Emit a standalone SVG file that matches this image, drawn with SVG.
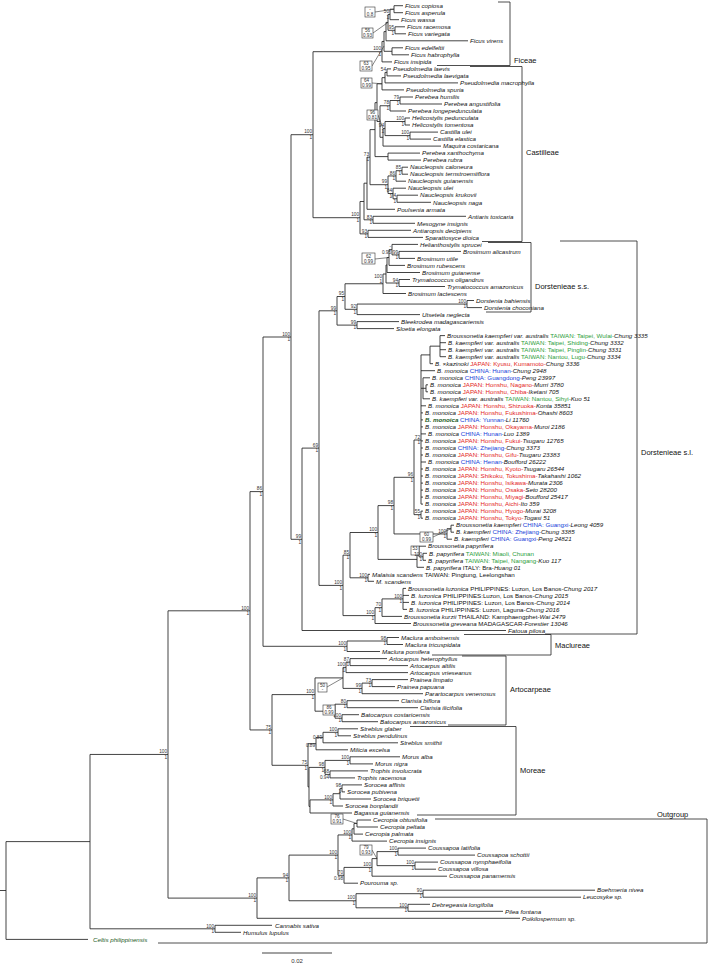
<svg xmlns="http://www.w3.org/2000/svg" width="710" height="964" viewBox="0 0 710 964">
<style>
.br{fill:none;stroke:#222;stroke-width:0.85}
.bx{fill:#fff;stroke:#333;stroke-width:0.6}
.ld{fill:none;stroke:#333;stroke-width:0.6}
.cb{fill:none;stroke:#222;stroke-width:0.8}
.t{font-family:"Liberation Sans",Arial,sans-serif;font-style:italic;font-size:6.2px;fill:#111}
.n{font-style:normal}
.jp{font-style:normal;fill:#e3261d}
.cn{font-style:normal;fill:#2040d8}
.tw{font-style:normal;fill:#2e9e3a}
.gb{font-weight:bold;fill:#1d5a1d}
.s{font-family:"Liberation Sans",Arial,sans-serif;font-size:4.7px;fill:#333;text-anchor:end}
.sb{font-family:"Liberation Sans",Arial,sans-serif;font-size:4.6px;fill:#333;text-anchor:middle}
.cl{font-family:"Liberation Sans",Arial,sans-serif;font-size:7.5px;fill:#111}
</style>
<g id="connectors">
<path class="br" d="M0 890.5H6M6 841.6V939.4M6 841.6H90M6 939.4H88
M90 754.45V928.8M90 754.45H168M90 928.8H215
M215 925.3V932.3M215 925.3H272M215 932.3H241
M168 610.8V898.1M168 610.8H250M168 898.1H257
M257 877.9V918.3M257 877.9H289M257 918.3H520
M289 855.1V900.75M289 855.1H338M289 900.75H356
M356 893.7V907.8M356 893.7H423M356 907.8H408
M423 890.2V897.2M423 890.2H595M423 897.2H581
M408 904.3V911.3M408 904.3H430M408 911.3H503
M338 834.95V875.3M338 834.95H352M338 875.3H344
M352 828.8V841.1M352 828.8H354M352 841.1H387
M354 823.5V834.1M354 823.5H357M354 834.1H363
M357 820V827M357 820H371M357 827H378
M344 867.4V883.2M344 867.4H372M344 883.2H358
M372 858.6V876.2M372 858.6H377M372 876.2H447
M377 851.6V865.65M377 851.6H398M377 865.65H415
M398 848.1V855.1M398 848.1H426M398 855.1H475
M415 862.1V869.2M415 862.1H438M415 869.2H436"/>
<path class="br" d="M250 491.6V729.95M250 491.6H263M250 729.95H272
M272 694.6V765.3M272 694.6H315M272 765.3H308
M315 677.9V711.2M315 677.9H343M315 711.2H335
M343 667.4V688.4M343 667.4H346M343 688.4H362
M346 662.1V672.6M346 662.1H350M346 672.6H408
M350 658.6V665.6M350 658.6H387M350 665.6H408
M362 683.1V693.7M362 683.1H372M362 693.7H423
M372 679.6V686.6M372 679.6H408M372 686.6H395
M335 704.2V718.2M335 704.2H347M335 718.2H342
M347 700.7V707.7M347 700.7H399M347 707.7H418
M342 714.7V721.7M342 714.7H359M342 721.7H378
M308 743.7V786.9M308 743.7H316M308 786.9H309
M316 737.55V749.8M316 737.55H323M316 749.8H348
M323 732.3V742.8M323 732.3H338M323 742.8H398
M338 728.8V735.8M338 728.8H358M338 735.8H351
M309 767.4V806.45M309 767.4H325M309 806.45H310
M325 760.4V774.4M325 760.4H350M325 774.4H330
M350 756.8V763.9M350 756.8H400M350 763.9H373
M330 770.9V777.9M330 770.9H368M330 777.9H355
M310 799.9V813M310 799.9H333M310 813H352
M333 793.7V806M333 793.7H340M333 806H343
M340 788.4V799M340 788.4H342M340 799H371
M342 784.9V791.9M342 784.9H362M342 791.9H345
M263 337V646.3M263 337H291M263 646.3H347
M347 641V651.5M347 641H387M347 651.5H380
M387 637.5V644.5M387 637.5H399M387 644.5H403"/>
<path class="br" d="M291 134.7V539.3M291 134.7H313M291 539.3H302
M302 448.1V630.5M302 448.1H319M302 630.5H506
M319 310.8V585.4M319 310.8H337M319 585.4H343
M337 296.5V325.1M337 296.5H345M337 325.1H357
M345 283.75V309.3M345 283.75H383M345 309.3H357
M383 274V293.5M383 274H386M383 293.5H406
M386 265V283M386 265H387M386 283H399
M387 257.5V272.5M387 257.5H389M387 272.5H420
M389 249.65V265.4M389 249.65H392M389 265.4H405
M392 244.4V254.9M392 244.4H418M392 254.9H399
M399 251.4V258.4M399 251.4H461M399 258.4H415
M399 279.5V286.5M399 279.5H410M399 286.5H445
M357 304.05V314.6M357 304.05H467M357 314.6H420
M467 300.5V307.6M467 300.5H474M467 307.6H482
M357 321.6V328.6M357 321.6H399M357 328.6H394"/>
<path class="br" d="M343 555.15V615.6M343 555.15H350M343 615.6H375
M350 532.5V577.8M350 532.5H378M350 577.8H368
M368 574.3V581.3M368 574.3H370M368 581.3H374
M378 505.6V559.4M378 505.6H394M378 559.4H417
M417 551.5V567.3M417 551.5H419M417 567.3H424
M419 546.2V556.8M419 546.2H426M419 556.8H423
M423 553.3V560.3M423 553.3H427M423 560.3H426
M394 477.3V533.95M394 477.3H414M394 533.95H447
M447 528.7V539.2M447 528.7H451M447 539.2H452
M451 525.2V532.2M451 525.2H454M451 532.2H454
M414 440V514.65M414 440H421M414 514.65H421
M421 511.1V518.2M421 511.1H423M421 518.2H423
M421 354.9V504.1M421 354.9H430M421 370.7H435M421 388.3H423M421 405.8H426M421 412.9H423M421 419.9H423M421 426.9H423M421 433.9H426M421 440.9H423M421 448H423M421 455H423M421 462H426M421 469H423M421 476H423M421 483.1H423M421 490.1H423M421 497.1H423M421 504.1H423
M430 346.15V363.7M430 346.15H440M430 363.7H433
M440 335.6V356.7M440 335.6H445M440 342.7H446M440 349.7H446M440 356.7H446
M423 377.8V398.8M423 377.8H430M423 388.3H426M423 398.8H430
M426 384.8V391.8M426 384.8H428M426 391.8H428
M375 607.65V623.5M375 607.65H382M375 623.5H411
M382 598.9V616.4M382 598.9H403M382 616.4H402
M403 588.4V609.4M403 588.4H406M403 595.4H409M403 602.4H409M403 609.4H407"/>
<path class="br" d="M313 51.7V217.7M313 51.7H382M313 217.7H360
M382 41.45V61.9M382 41.45H384M382 61.9H392
M384 31.6V51.3M384 31.6H386M384 51.3H392
M392 47.8V54.8M392 47.8H403M392 54.8H409
M386 22.4V40.8M386 22.4H388M386 40.8H468
M388 14.45V30.3M388 14.45H390M388 30.3H395
M390 9.2V19.7M390 9.2H394M390 19.7H399
M394 5.7V12.7M394 5.7H403M394 12.7H403
M395 26.8V33.8M395 26.8H405M395 33.8H406
M360 201.5V233.85M360 201.5H364M360 233.85H368
M364 183.2V219.8M364 183.2H367M364 219.8H373
M368 230.3V237.4M368 230.3H411M368 237.4H423
M373 216.3V223.3M373 216.3H466M373 223.3H415
M367 157.15V209.3M367 157.15H370M367 209.3H395
M370 129.6V184.7M370 129.6H375M370 184.7H388
M388 175.95V193.5M388 175.95H396M388 193.5H393
M396 170.7V181.2M396 170.7H402M396 181.2H406
M402 167.2V174.2M402 167.2H408M402 174.2H408
M393 188.2V198.75M393 188.2H406M393 198.75H397
M397 195.2V202.3M397 195.2H418M397 202.3H431
M375 102.65V156.6M375 102.65H377M375 156.6H388
M388 153.1V160.1M388 153.1H420M388 160.1H421
M377 83.8V121.5M377 83.8H382M377 121.5H380
M382 77.65V89.9M382 77.65H385M382 89.9H404
M385 72.4V82.9M385 72.4H387M385 82.9H458
M387 68.9V75.9M387 68.9H391M387 75.9H401
M380 105.75V137.3M380 105.75H390M380 137.3H383
M390 100.5V111M390 100.5H400M390 111H406
M400 97V104M400 97H413M400 104H442
M383 128.55V146.1M383 128.55H385M383 146.1H441
M385 121.5V135.6M385 121.5H405M385 135.6H410
M405 118V125M405 118H410M405 125H410
M410 132.1V139.1M410 132.1H438M410 139.1H431"/>
<path class="ld" d="M375 12L394 9.2M373 33L388 22.4M372 66L384 46M372 83L382 83.8M378 115L383 128.5M375 259L389 257.5M433 537L451 528.7M419 551L419 551.5M327 687L343 677.9M335 710L335 711.2M343 819L357 823.5M372 850L377 858.6"/>
<path class="cb" d="M498 2H510V65.5H437M470 66.5H522V241.5H482M488 242.5H531V312H486M560 241H637V634H545M464 634.5H551V655H432M462 656H506V725H448M410 726.5H516V815H417M435 819H707V943H158"/>
<path class="br" d="M262 953H332"/>
</g>
<g id="clades">
<text class="cl" x="514" y="63">Ficeae</text>
<text class="cl" x="526" y="155">Castilleae</text>
<text class="cl" x="535" y="289">Dorstenieae s.s.</text>
<text class="cl" x="641" y="455">Dorstenieae s.l.</text>
<text class="cl" x="555" y="648">Maclureae</text>
<text class="cl" x="510" y="692">Artocarpeae</text>
<text class="cl" x="520" y="773">Moreae</text>
<text class="cl" x="657" y="817">Outgroup</text>
<text class="sb" x="297" y="963" style="font-size:6px">0.02</text>
</g>
<g id="support">
<g transform="translate(390 14.45)"><text class="s" x="-1" y="-1.3">50</text><text class="s" x="-1" y="4.3">1</text></g>
<g transform="translate(395 30.3)"><text class="s" x="-1" y="-1.3">95</text><text class="s" x="-1" y="4.3">1</text></g>
<g transform="translate(382 51.7)"><text class="s" x="-1" y="-1.3">100</text><text class="s" x="-1" y="4.3">1</text></g>
<g transform="translate(365 7)"><rect class="bx" width="10" height="10"/><text class="sb" x="5" y="4.3">-</text><text class="sb" x="5" y="9">0.8</text></g>
<g transform="translate(362 28)"><rect class="bx" width="11" height="10"/><text class="sb" x="5.5" y="4.3">56</text><text class="sb" x="5.5" y="9">0.93</text></g>
<g transform="translate(360 61)"><rect class="bx" width="12" height="10"/><text class="sb" x="6" y="4.3">63</text><text class="sb" x="6" y="9">0.95</text></g>
<g transform="translate(387 72.4)"><text class="s" x="-1" y="-1.3">54</text></g>
<g transform="translate(361 78)"><rect class="bx" width="11" height="10"/><text class="sb" x="5.5" y="4.3">64</text><text class="sb" x="5.5" y="9">0.99</text></g>
<g transform="translate(400 100.5)"><text class="s" x="-1" y="-1.3">79</text><text class="s" x="-1" y="4.3">1</text></g>
<g transform="translate(390 105.75)"><text class="s" x="-1" y="-1.3">78</text><text class="s" x="-1" y="4.3">1</text></g>
<g transform="translate(367 110)"><rect class="bx" width="11" height="10"/><text class="sb" x="5.5" y="4.3">96</text><text class="sb" x="5.5" y="9">0.81</text></g>
<g transform="translate(405 121.5)"><text class="s" x="-1" y="-1.3">100</text><text class="s" x="-1" y="4.3">1</text></g>
<g transform="translate(385 128.55)"><text class="s" x="-1" y="-1.3">94</text><text class="s" x="-1" y="4.3">1</text></g>
<g transform="translate(410 135.6)"><text class="s" x="-1" y="-1.3">100</text><text class="s" x="-1" y="4.3">1</text></g>
<g transform="translate(370 157.15)"><text class="s" x="-1" y="-1.3">73</text><text class="s" x="-1" y="4.3">1</text></g>
<g transform="translate(402 170.7)"><text class="s" x="-1" y="-1.3">85</text><text class="s" x="-1" y="4.3">1</text></g>
<g transform="translate(396 175.95)"><text class="s" x="-1" y="-1.3">86</text><text class="s" x="-1" y="4.3">1</text></g>
<g transform="translate(388 184.7)"><text class="s" x="-1" y="-1.3">99</text><text class="s" x="-1" y="4.3">1</text></g>
<g transform="translate(393 193.5)"><text class="s" x="-1" y="-1.3">84</text><text class="s" x="-1" y="4.3">1</text></g>
<g transform="translate(397 198.75)"><text class="s" x="-1" y="-1.3">74</text><text class="s" x="-1" y="4.3">1</text></g>
<g transform="translate(360 217.7)"><text class="s" x="-1" y="-1.3">100</text><text class="s" x="-1" y="4.3">1</text></g>
<g transform="translate(373 219.8)"><text class="s" x="-1" y="-1.3">83</text><text class="s" x="-1" y="4.3">1</text></g>
<g transform="translate(368 233.85)"><text class="s" x="-1" y="-1.3">93</text><text class="s" x="-1" y="4.3">1</text></g>
<g transform="translate(313 134.7)"><text class="s" x="-1" y="-1.3">100</text><text class="s" x="-1" y="4.3">1</text></g>
<g transform="translate(392 249.65)"><text class="s" x="-1" y="-1.3">-</text><text class="s" x="-1" y="4.3">0.95</text></g>
<g transform="translate(399 254.9)"><text class="s" x="-1" y="-1.3">99</text><text class="s" x="-1" y="4.3">1</text></g>
<g transform="translate(362 253)"><rect class="bx" width="13" height="11"/><text class="sb" x="6.5" y="4.6">62</text><text class="sb" x="6.5" y="9.6">0.99</text></g>
<g transform="translate(399 283)"><text class="s" x="-1" y="-1.3">94</text><text class="s" x="-1" y="4.3">1</text></g>
<g transform="translate(383 279)"><text class="s" x="-1" y="-1.3">100</text><text class="s" x="-1" y="4.3">1</text></g>
<g transform="translate(467 304.05)"><text class="s" x="-1" y="-1.3">100</text><text class="s" x="-1" y="4.3">1</text></g>
<g transform="translate(357 309.3)"><text class="s" x="-1" y="-1.3">92</text><text class="s" x="-1" y="4.3">1</text></g>
<g transform="translate(345 296.5)"><text class="s" x="-1" y="-1.3">95</text><text class="s" x="-1" y="4.3">1</text></g>
<g transform="translate(357 325.1)"><text class="s" x="-1" y="-1.3">99</text><text class="s" x="-1" y="4.3">1</text></g>
<g transform="translate(337 310.8)"><text class="s" x="-1" y="-1.3">99</text><text class="s" x="-1" y="4.3">1</text></g>
<g transform="translate(421 440)"><text class="s" x="-1" y="-1.3">72</text><text class="s" x="-1" y="4.3">1</text></g>
<g transform="translate(414 477.3)"><text class="s" x="-1" y="-1.3">96</text><text class="s" x="-1" y="4.3">1</text></g>
<g transform="translate(421 514.65)"><text class="s" x="-1" y="-1.3">55</text><text class="s" x="-1" y="4.3">1</text></g>
<g transform="translate(394 505.6)"><text class="s" x="-1" y="-1.3">98</text><text class="s" x="-1" y="4.3">1</text></g>
<g transform="translate(420 532)"><rect class="bx" width="13" height="10"/><text class="sb" x="6.5" y="4.3">60</text><text class="sb" x="6.5" y="9">0.99</text></g>
<g transform="translate(447 533.95)"><text class="s" x="-1" y="-1.3">100</text><text class="s" x="-1" y="4.3">1</text></g>
<g transform="translate(411 546)"><rect class="bx" width="8" height="9"/><text class="sb" x="4" y="4">53</text><text class="sb" x="4" y="8.3">-</text></g>
<g transform="translate(423 556.8)"><text class="s" x="-1" y="-1.3">100</text><text class="s" x="-1" y="4.3">1</text></g>
<g transform="translate(378 532.5)"><text class="s" x="-1" y="-1.3">100</text><text class="s" x="-1" y="4.3">1</text></g>
<g transform="translate(350 555.15)"><text class="s" x="-1" y="-1.3">85</text><text class="s" x="-1" y="4.3">1</text></g>
<g transform="translate(368 577.8)"><text class="s" x="-1" y="-1.3">100</text><text class="s" x="-1" y="4.3">1</text></g>
<g transform="translate(403 598.9)"><text class="s" x="-1" y="-1.3">100</text><text class="s" x="-1" y="4.3">1</text></g>
<g transform="translate(382 607.65)"><text class="s" x="-1" y="-1.3">70</text><text class="s" x="-1" y="4.3">1</text></g>
<g transform="translate(375 615.6)"><text class="s" x="-1" y="-1.3">100</text><text class="s" x="-1" y="4.3">1</text></g>
<g transform="translate(343 585.4)"><text class="s" x="-1" y="-1.3">100</text><text class="s" x="-1" y="4.3">1</text></g>
<g transform="translate(319 448.1)"><text class="s" x="-1" y="-1.3">69</text><text class="s" x="-1" y="4.3">1</text></g>
<g transform="translate(302 539.3)"><text class="s" x="-1" y="-1.3">99</text><text class="s" x="-1" y="4.3">1</text></g>
<g transform="translate(291 337)"><text class="s" x="-1" y="-1.3">100</text><text class="s" x="-1" y="4.3">1</text></g>
<g transform="translate(263 491.6)"><text class="s" x="-1" y="-1.3">86</text><text class="s" x="-1" y="4.3">1</text></g>
<g transform="translate(250 610.8)"><text class="s" x="-1" y="-1.3">100</text><text class="s" x="-1" y="4.3">1</text></g>
<g transform="translate(272 729.95)"><text class="s" x="-1" y="-1.3">75</text><text class="s" x="-1" y="4.3">1</text></g>
<g transform="translate(168 754.45)"><text class="s" x="-1" y="-1.3">100</text><text class="s" x="-1" y="4.3">1</text></g>
<g transform="translate(257 898.1)"><text class="s" x="-1" y="-1.3">100</text><text class="s" x="-1" y="4.3">1</text></g>
<g transform="translate(289 877.9)"><text class="s" x="-1" y="-1.3">94</text><text class="s" x="-1" y="4.3">1</text></g>
<g transform="translate(215 928.8)"><text class="s" x="-1" y="-1.3">100</text><text class="s" x="-1" y="4.3">1</text></g>
<g transform="translate(387 641)"><text class="s" x="-1" y="-1.3">98</text><text class="s" x="-1" y="4.3">1</text></g>
<g transform="translate(347 646.3)"><text class="s" x="-1" y="-1.3">100</text><text class="s" x="-1" y="4.3">1</text></g>
<g transform="translate(350 662.1)"><text class="s" x="-1" y="-1.3">87</text><text class="s" x="-1" y="4.3">1</text></g>
<g transform="translate(346 667.4)"><text class="s" x="-1" y="-1.3">100</text><text class="s" x="-1" y="4.3">1</text></g>
<g transform="translate(372 683.1)"><text class="s" x="-1" y="-1.3">73</text><text class="s" x="-1" y="4.3">1</text></g>
<g transform="translate(362 688.4)"><text class="s" x="-1" y="-1.3">99</text><text class="s" x="-1" y="4.3">1</text></g>
<g transform="translate(347 704.2)"><text class="s" x="-1" y="-1.3">80</text><text class="s" x="-1" y="4.3">1</text></g>
<g transform="translate(342 718.2)"><text class="s" x="-1" y="-1.3">100</text><text class="s" x="-1" y="4.3">1</text></g>
<g transform="translate(315 694.6)"><text class="s" x="-1" y="-1.3">100</text><text class="s" x="-1" y="4.3">1</text></g>
<g transform="translate(318 683)"><rect class="bx" width="9" height="9"/><text class="sb" x="4.5" y="4">50</text><text class="sb" x="4.5" y="8.3">-</text></g>
<g transform="translate(323 705)"><rect class="bx" width="12" height="10"/><text class="sb" x="6" y="4.3">86</text><text class="sb" x="6" y="9">0.99</text></g>
<g transform="translate(338 732.3)"><text class="s" x="-1" y="-1.3">100</text><text class="s" x="-1" y="4.3">1</text></g>
<g transform="translate(323 737.55)"><text class="s" x="-1" y="1.5">0.89</text></g>
<g transform="translate(316 743.7)"><text class="s" x="-1" y="3">0.89</text></g>
<g transform="translate(325 767.4)"><text class="s" x="-1" y="-1.3">98</text><text class="s" x="-1" y="4.3">1</text></g>
<g transform="translate(330 774.4)"><text class="s" x="-1" y="-1.3">68</text><text class="s" x="-1" y="4.3">0.94</text></g>
<g transform="translate(350 760.4)"><text class="s" x="-1" y="-1.3">100</text><text class="s" x="-1" y="4.3">1</text></g>
<g transform="translate(342 788.4)"><text class="s" x="-1" y="-1.3">98</text><text class="s" x="-1" y="4.3">1</text></g>
<g transform="translate(333 799.9)"><text class="s" x="-1" y="-1.3">100</text><text class="s" x="-1" y="4.3">1</text></g>
<g transform="translate(308 765.3)"><text class="s" x="-1" y="-1.3">75</text><text class="s" x="-1" y="4.3">1</text></g>
<g transform="translate(331 814)"><rect class="bx" width="12" height="10"/><text class="sb" x="6" y="4.3">76</text><text class="sb" x="6" y="9">0.91</text></g>
<g transform="translate(352 834.95)"><text class="s" x="-1" y="-1.3">100</text><text class="s" x="-1" y="4.3">1</text></g>
<g transform="translate(360 845)"><rect class="bx" width="12" height="10"/><text class="sb" x="6" y="4.3">79</text><text class="sb" x="6" y="9">0.93</text></g>
<g transform="translate(398 851.6)"><text class="s" x="-1" y="-1.3">100</text><text class="s" x="-1" y="4.3">1</text></g>
<g transform="translate(415 865.65)"><text class="s" x="-1" y="-1.3">100</text><text class="s" x="-1" y="4.3">1</text></g>
<g transform="translate(372 867.4)"><text class="s" x="-1" y="-1.3">100</text><text class="s" x="-1" y="4.3">1</text></g>
<g transform="translate(344 875.3)"><text class="s" x="-1" y="-1.3">70</text><text class="s" x="-1" y="4.3">0.98</text></g>
<g transform="translate(338 855.1)"><text class="s" x="-1" y="-1.3">100</text><text class="s" x="-1" y="4.3">1</text></g>
<g transform="translate(423 893.7)"><text class="s" x="-1" y="-1.3">90</text><text class="s" x="-1" y="4.3">1</text></g>
<g transform="translate(408 907.8)"><text class="s" x="-1" y="-1.3">100</text><text class="s" x="-1" y="4.3">1</text></g>
<g transform="translate(356 900.75)"><text class="s" x="-1" y="-1.3">100</text><text class="s" x="-1" y="4.3">1</text></g>
</g>
<g id="taxa" class="t">
<g id="t0"><text class="t" x="405" y="7.9">Ficus copiosa</text></g>
<g id="t1"><text class="t" x="405" y="14.9">Ficus asperula</text></g>
<g id="t2"><text class="t" x="401" y="21.9">Ficus wassa</text></g>
<g id="t3"><text class="t" x="407" y="29">Ficus racemosa</text></g>
<g id="t4"><text class="t" x="408" y="36">Ficus variegata</text></g>
<g id="t5"><text class="t" x="470" y="43">Ficus virens</text></g>
<g id="t6"><text class="t" x="405" y="50">Ficus edelfeltii</text></g>
<g id="t7"><text class="t" x="411" y="57">Ficus habrophylla</text></g>
<g id="t8"><text class="t" x="394" y="64.1">Ficus insipida</text></g>
<g id="t9"><text class="t" x="393" y="71.1">Pseudolmedia laevis</text></g>
<g id="t10"><text class="t" x="403" y="78.1">Pseudolmedia laevigata</text></g>
<g id="t11"><text class="t" x="460" y="85.1">Pseudolmedia macrophylla</text></g>
<g id="t12"><text class="t" x="406" y="92.1">Pseudolmedia spuria</text></g>
<g id="t13"><text class="t" x="415" y="99.2">Perebea humilis</text></g>
<g id="t14"><text class="t" x="444" y="106.2">Perebea angustifolia</text></g>
<g id="t15"><text class="t" x="408" y="113.2">Perebea longepedunculata</text></g>
<g id="t16"><text class="t" x="412" y="120.2">Helicostylis pedunculata</text></g>
<g id="t17"><text class="t" x="412" y="127.2">Helicostylis tomentosa</text></g>
<g id="t18"><text class="t" x="440" y="134.3">Castilla ulei</text></g>
<g id="t19"><text class="t" x="433" y="141.3">Castilla elastica</text></g>
<g id="t20"><text class="t" x="443" y="148.3">Maquira costaricana</text></g>
<g id="t21"><text class="t" x="422" y="155.3">Perebea xanthochyma</text></g>
<g id="t22"><text class="t" x="423" y="162.3">Perebea rubra</text></g>
<g id="t23"><text class="t" x="410" y="169.4">Naucleopsis caloneura</text></g>
<g id="t24"><text class="t" x="410" y="176.4">Naucleopsis ternstroemiiflora</text></g>
<g id="t25"><text class="t" x="408" y="183.4">Naucleopsis guianensis</text></g>
<g id="t26"><text class="t" x="408" y="190.4">Naucleopsis ulei</text></g>
<g id="t27"><text class="t" x="420" y="197.4">Naucleopsis krukovii</text></g>
<g id="t28"><text class="t" x="433" y="204.5">Naucleopsis naga</text></g>
<g id="t29"><text class="t" x="397" y="211.5">Poulsenia armata</text></g>
<g id="t30"><text class="t" x="468" y="218.5">Antiaris toxicaria</text></g>
<g id="t31"><text class="t" x="417" y="225.5">Mesogyne insignis</text></g>
<g id="t32"><text class="t" x="413" y="232.5">Antiaropsis decipiens</text></g>
<g id="t33"><text class="t" x="425" y="239.6">Sparattosyce dioica</text></g>
<g id="t34"><text class="t" x="420" y="246.6">Helianthostylis sprucei</text></g>
<g id="t35"><text class="t" x="463" y="253.6">Brosimum alicastrum</text></g>
<g id="t36"><text class="t" x="417" y="260.6">Brosimum utile</text></g>
<g id="t37"><text class="t" x="407" y="267.6">Brosimum rubescens</text></g>
<g id="t38"><text class="t" x="422" y="274.7">Brosimum guianense</text></g>
<g id="t39"><text class="t" x="412" y="281.7">Trymatococcus oligandrus</text></g>
<g id="t40"><text class="t" x="447" y="288.7">Trymatococcus amazonicus</text></g>
<g id="t41"><text class="t" x="408" y="295.7">Brosimum lactescens</text></g>
<g id="t42"><text class="t" x="476" y="302.7">Dorstenia bahiensis</text></g>
<g id="t43"><text class="t" x="484" y="309.8">Dorstenia choconiana</text></g>
<g id="t44"><text class="t" x="422" y="316.8">Utsetela neglecta</text></g>
<g id="t45"><text class="t" x="401" y="323.8">Bleekrodea madagascariensis</text></g>
<g id="t46"><text class="t" x="396" y="330.8">Sloetia elongata</text></g>
<g id="t47"><text class="t" x="447" y="337.8">Broussonetia kaempferi var. australis <tspan class="tw">TAIWAN: Taipei, Wulai-</tspan>Chung 3335</text></g>
<g id="t48"><text class="t" x="448" y="344.9">B. kaempferi var. australis <tspan class="tw">TAIWAN: Taipei, Shiding-</tspan>Chung 3332</text></g>
<g id="t49"><text class="t" x="448" y="351.9">B. kaempferi var. australis <tspan class="tw">TAIWAN: Taipei, Pinglin-</tspan>Chung 3331</text></g>
<g id="t50"><text class="t" x="448" y="358.9">B. kaempferi var. australis <tspan class="tw">TAIWAN: Nantou, Lugu-</tspan>Chung 3334</text></g>
<g id="t51"><text class="t" x="435" y="365.9">B. ×kazinoki <tspan class="jp">JAPAN: Kyusu, Kumamoto-</tspan>Chung 3336</text></g>
<g id="t52"><text class="t" x="437" y="372.9">B. monoica <tspan class="cn">CHINA: Hunan-</tspan>Chung 2948</text></g>
<g id="t53"><text class="t" x="432" y="380">B. monoica <tspan class="cn">CHINA: Guangdong-</tspan>Peng 23997</text></g>
<g id="t54"><text class="t" x="430" y="387">B. monoica <tspan class="jp">JAPAN: Honshu, Nagano-</tspan>Murri 3780</text></g>
<g id="t55"><text class="t" x="430" y="394">B. monoica <tspan class="jp">JAPAN: Honshu, Chiba-</tspan>Iketani 705</text></g>
<g id="t56"><text class="t" x="432" y="401">B. kaempferi var. australis <tspan class="tw">TAIWAN: Nantou, Sihyi-</tspan>Kuo 51</text></g>
<g id="t57"><text class="t" x="428" y="408">B. monoica <tspan class="jp">JAPAN: Honshu, Shizuoka-</tspan>Konta 35851</text></g>
<g id="t58"><text class="t" x="425" y="415.1">B. monoica <tspan class="jp">JAPAN: Honshu, Fukushima-</tspan>Ohashi 8603</text></g>
<g id="t59"><text class="t" x="425" y="422.1"><tspan class="gb">B. monoica</tspan> <tspan class="cn">CHINA: Yunnan-</tspan>Li 11760</text></g>
<g id="t60"><text class="t" x="425" y="429.1">B. monoica <tspan class="jp">JAPAN: Honshu, Okayama-</tspan>Muroi 2186</text></g>
<g id="t61"><text class="t" x="428" y="436.1">B. monoica <tspan class="cn">CHINA: Hunan-</tspan>Luo 1389</text></g>
<g id="t62"><text class="t" x="425" y="443.1">B. monoica <tspan class="jp">JAPAN: Honshu, Fukui-</tspan>Tsugaru 12765</text></g>
<g id="t63"><text class="t" x="425" y="450.2">B. monoica <tspan class="cn">CHINA: Zhejiang-</tspan>Chung 3373</text></g>
<g id="t64"><text class="t" x="425" y="457.2">B. monoica <tspan class="jp">JAPAN: Honshu, Gifu-</tspan>Tsugaru 23383</text></g>
<g id="t65"><text class="t" x="428" y="464.2">B. monoica <tspan class="cn">CHINA: Henan-</tspan>Boufford 26222</text></g>
<g id="t66"><text class="t" x="425" y="471.2">B. monoica <tspan class="jp">JAPAN: Honshu, Kyoto-</tspan>Tsugaru 26544</text></g>
<g id="t67"><text class="t" x="425" y="478.2">B. monoica <tspan class="jp">JAPAN: Shikoku, Tokushima-</tspan>Takahashi 1062</text></g>
<g id="t68"><text class="t" x="425" y="485.3">B. monoica <tspan class="jp">JAPAN: Honshu, Isikawa-</tspan>Murata 2306</text></g>
<g id="t69"><text class="t" x="425" y="492.3">B. monoica <tspan class="jp">JAPAN: Honshu, Osaka-</tspan>Seto 28200</text></g>
<g id="t70"><text class="t" x="425" y="499.3">B. monoica <tspan class="jp">JAPAN: Honshu, Miyagi-</tspan>Boufford 25417</text></g>
<g id="t71"><text class="t" x="425" y="506.3">B. monoica <tspan class="jp">JAPAN: Honshu, Aichi-</tspan>Ito 359</text></g>
<g id="t72"><text class="t" x="425" y="513.3">B. monoica <tspan class="jp">JAPAN: Honshu, Hyogo-</tspan>Murai 3208</text></g>
<g id="t73"><text class="t" x="425" y="520.4">B. monoica <tspan class="jp">JAPAN: Honshu, Tokyo-</tspan>Togasi 51</text></g>
<g id="t74"><text class="t" x="456" y="527.4">Broussonetia kaempferi <tspan class="cn">CHINA: Guangxi-</tspan>Leong 4059</text></g>
<g id="t75"><text class="t" x="456" y="534.4">B. kaempferi <tspan class="cn">CHINA: Zhejiang-</tspan>Chung 3385</text></g>
<g id="t76"><text class="t" x="454" y="541.4">B. kaempferi <tspan class="cn">CHINA: Guangxi-</tspan>Peng 24821</text></g>
<g id="t77"><text class="t" x="428" y="548.4">Broussonetia papyrifera</text></g>
<g id="t78"><text class="t" x="429" y="555.5">B. papyrifera <tspan class="tw">TAIWAN: Miaoli, Chunan</tspan></text></g>
<g id="t79"><text class="t" x="428" y="562.5">B. papyrifera <tspan class="tw">TAIWAN: Taipei, Nangang-</tspan>Kuo 117</text></g>
<g id="t80"><text class="t" x="426" y="569.5">B. papyrifera <tspan class="n">ITALY: Bra-</tspan>Huang 01</text></g>
<g id="t81"><text class="t" x="372" y="576.5">Malaisia scandens <tspan class="n">TAIWAN: Pingtung, Leelongshan</tspan></text></g>
<g id="t82"><text class="t" x="376" y="583.5">M. scandens</text></g>
<g id="t83"><text class="t" x="408" y="590.6">Broussonetia luzonica <tspan class="n">PHILIPPINES: Luzon, Los Banos-</tspan>Chung 2017</text></g>
<g id="t84"><text class="t" x="411" y="597.6">B. luzonica <tspan class="n">PHILIPPINES:Luzon, Los Banos-</tspan>Chung 2015</text></g>
<g id="t85"><text class="t" x="411" y="604.6">B. luzonica <tspan class="n">PHILIPPINES: Luzon, Los Banos-</tspan>Chung 2014</text></g>
<g id="t86"><text class="t" x="409" y="611.6">B. luzonica <tspan class="n">PHILIPPINES: Luzon, Laguna-</tspan>Chung 2016</text></g>
<g id="t87"><text class="t" x="404" y="618.6">Broussonetia kurzii <tspan class="n">THAILAND: Kamphaengphet-</tspan>Wai 2479</text></g>
<g id="t88"><text class="t" x="413" y="625.7">Broussonetia greveana <tspan class="n">MADAGASCAR-</tspan>Forestier 13046</text></g>
<g id="t89"><text class="t" x="508" y="632.7">Fatoua pilosa</text></g>
<g id="t90"><text class="t" x="401" y="639.7">Maclura amboinensis</text></g>
<g id="t91"><text class="t" x="405" y="646.7">Maclura tricuspidata</text></g>
<g id="t92"><text class="t" x="382" y="653.7">Maclura pomifera</text></g>
<g id="t93"><text class="t" x="389" y="660.8">Artocarpus heterophyllus</text></g>
<g id="t94"><text class="t" x="410" y="667.8">Artocarpus altilis</text></g>
<g id="t95"><text class="t" x="410" y="674.8">Artocarpus vrieseanus</text></g>
<g id="t96"><text class="t" x="410" y="681.8">Prainea limpato</text></g>
<g id="t97"><text class="t" x="397" y="688.8">Prainea papuana</text></g>
<g id="t98"><text class="t" x="425" y="695.9">Parartocarpus venenosus</text></g>
<g id="t99"><text class="t" x="401" y="702.9">Clarisia biflora</text></g>
<g id="t100"><text class="t" x="420" y="709.9">Clarisia ilicifolia</text></g>
<g id="t101"><text class="t" x="361" y="716.9">Batocarpus costaricensis</text></g>
<g id="t102"><text class="t" x="380" y="723.9">Batocarpus amazonicus</text></g>
<g id="t103"><text class="t" x="360" y="731">Streblus glaber</text></g>
<g id="t104"><text class="t" x="353" y="738">Streblus pendulinus</text></g>
<g id="t105"><text class="t" x="400" y="745">Streblus smithii</text></g>
<g id="t106"><text class="t" x="350" y="752">Milicia excelsa</text></g>
<g id="t107"><text class="t" x="402" y="759">Morus alba</text></g>
<g id="t108"><text class="t" x="375" y="766.1">Morus nigra</text></g>
<g id="t109"><text class="t" x="370" y="773.1">Trophis involucrata</text></g>
<g id="t110"><text class="t" x="357" y="780.1">Trophis racemosa</text></g>
<g id="t111"><text class="t" x="364" y="787.1">Sorocea affinis</text></g>
<g id="t112"><text class="t" x="347" y="794.1">Sorocea pubivena</text></g>
<g id="t113"><text class="t" x="373" y="801.2">Sorocea briquetii</text></g>
<g id="t114"><text class="t" x="345" y="808.2">Sorocea bonplandii</text></g>
<g id="t115"><text class="t" x="354" y="815.2">Bagassa guianensis</text></g>
<g id="t116"><text class="t" x="373" y="822.2">Cecropia obtusifolia</text></g>
<g id="t117"><text class="t" x="380" y="829.2">Cecropia peltata</text></g>
<g id="t118"><text class="t" x="365" y="836.3">Cecropia palmata</text></g>
<g id="t119"><text class="t" x="389" y="843.3">Cecropia insignis</text></g>
<g id="t120"><text class="t" x="428" y="850.3">Coussapoa latifolia</text></g>
<g id="t121"><text class="t" x="477" y="857.3">Coussapoa schottii</text></g>
<g id="t122"><text class="t" x="440" y="864.3">Coussapoa nymphaeifolia</text></g>
<g id="t123"><text class="t" x="438" y="871.4">Coussapoa villosa</text></g>
<g id="t124"><text class="t" x="449" y="878.4">Coussapoa panamensis</text></g>
<g id="t125"><text class="t" x="360" y="885.4">Pourouma sp.</text></g>
<g id="t126"><text class="t" x="597" y="892.4">Boehmeria nivea</text></g>
<g id="t127"><text class="t" x="583" y="899.4">Leucosyke sp.</text></g>
<g id="t128"><text class="t" x="432" y="906.5">Debregeasia longifolia</text></g>
<g id="t129"><text class="t" x="505" y="913.5">Pilea fontana</text></g>
<g id="t130"><text class="t" x="522" y="920.5">Poikilospermum sp.</text></g>
<g id="t131"><text class="t" x="275" y="927.5">Cannabis sativa</text></g>
<g id="t132"><text class="t" x="243" y="934.5">Humulus lupulus</text></g>
<g id="t133"><text class="t" x="93" y="941.6" style="fill:#1d5a1d">Celtis philippinensis</text></g>
</g>
</svg>
